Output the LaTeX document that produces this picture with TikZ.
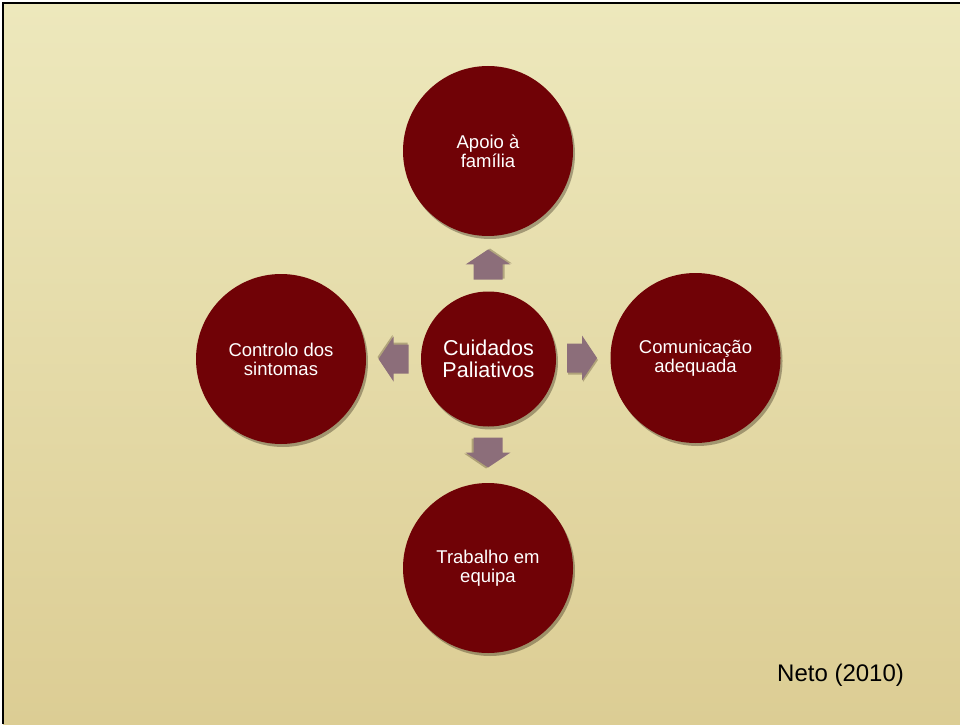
\documentclass[tikz,border=0pt]{standalone}
\usepackage{fontspec}
\setmainfont{Liberation Sans}
\usetikzlibrary{shadows}
\definecolor{parchtop}{RGB}{237,232,188}
\definecolor{parchmid}{RGB}{242,238,198}
\definecolor{parchbot}{RGB}{220,205,148}
\definecolor{wine}{RGB}{112,2,6}
\definecolor{mauve}{RGB}{140,110,122}
\tikzset{
  x=1pt, y=1pt,
  bubble/.style={circle, fill=wine, text=white, align=center, inner sep=0pt,
    drop shadow={shadow xshift=2pt, shadow yshift=-3pt, opacity=0.35, fill=black!80!brown}},
  outer/.style={bubble, minimum size=170pt, font=\fontsize{18.5}{19}\selectfont},
  core/.style={bubble, minimum size=135pt, font=\fontsize{21.5}{22}\selectfont},
  blockarrow/.pic={
    \fill[black!70!brown, opacity=0.3] (-14,-16.5) -- (1,-16.5) -- (1,-24) -- (16,-2) -- (1,20) -- (1,12.5) -- (-14,12.5) -- cycle;
    \fill[mauve] (-15,-14.5) -- (0,-14.5) -- (0,-22.5) -- (15,0) -- (0,22.5) -- (0,14.5) -- (-15,14.5) -- cycle;
  }
}
\begin{document}
\begin{tikzpicture}
\useasboundingbox (0,0) rectangle (960,724);
\fill[white] (0,0) rectangle (960,724);
\shade[top color=parchtop, middle color=parchmid, bottom color=parchbot] (3,0) rectangle (960,721);
\draw[line width=1.8pt] (2.7,0) -- (2.7,721.3) -- (960,721.3);

\node[core]  (C) at (488.5,365) {Cuidados\\Paliativos};
\node[outer] (T) at (488,573) {Apoio à\\família};
\node[outer] (L) at (281,365) {Controlo dos\\sintomas};
\node[outer] (R) at (695.5,366) {Comunicação\\adequada};
\node[outer] (B) at (488,156) {Trabalho em\\equipa};

\pic at (488,459.5) [rotate=90] {blockarrow};
\pic at (488,271.5) [rotate=-90] {blockarrow};
\pic at (393.5,365) [rotate=180] {blockarrow};
\pic at (582,366) {blockarrow};

\node[anchor=base west, inner sep=0pt, font=\fontsize{24}{27}\selectfont] (N) at (777,43) {Neto (2010)};
\end{tikzpicture}
\end{document}
